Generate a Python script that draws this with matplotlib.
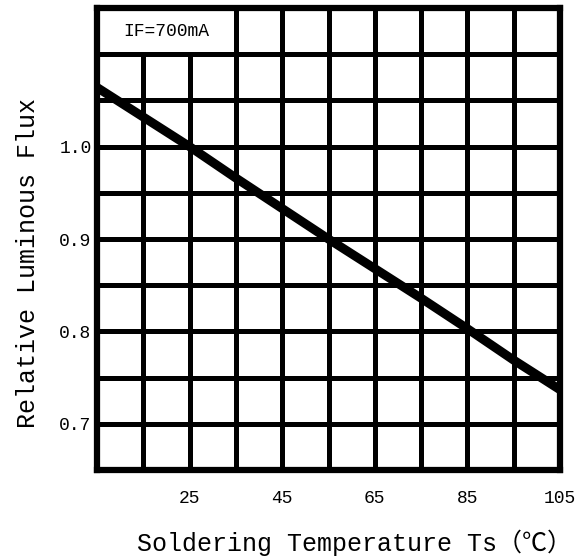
import matplotlib.pyplot as plt
import numpy as np

# Curve (temperature in C, relative flux)
temps = [5, 15, 25, 35, 45, 55, 65, 75, 85, 95, 105]
flux = [1.064, 1.032, 1.000, 0.966, 0.933, 0.900, 0.868, 0.836, 0.803, 0.769, 0.737]

x_grid = np.arange(5, 106, 10)
y_grid = np.arange(0.65, 1.151, 0.05)
x_labels = ['', '', '25', '', '45', '', '65', '', '85', '', '105']
y_labels = ['', '0.7', '', '0.8', '', '0.9', '', '1.0', '', '', '']

fam = ['Liberation Mono', 'Noto Sans CJK SC', 'DejaVu Sans']

fig = plt.figure(figsize=(5.82, 5.59), dpi=100)
ax = fig.add_axes([0.1667, 0.159, 0.7955, 0.8267])

ax.set_xlim(5, 105)
ax.set_ylim(0.65, 1.15)

# Grid: thick black lines, the top-left cell row is merged for the label box
for xv in x_grid[1:-1]:
    top = 1.10 if xv in (15, 25) else 1.15
    ax.vlines(xv, 0.65, top, color='black', lw=3.6, zorder=1)
for yv in y_grid[1:-1]:
    ax.axhline(yv, color='black', lw=3.6, zorder=1)

ax.plot(temps, flux, color='black', lw=6.5, solid_capstyle='butt', zorder=3)

ax.text(20, 1.125, 'IF=700mA', ha='center', va='center', fontsize=13,
        family=fam, zorder=4)

for s in ax.spines.values():
    s.set_linewidth(4.5)
    s.set_zorder(5)

ax.set_xticks(x_grid)
ax.set_xticklabels(x_labels, family=fam, fontsize=13)
ax.set_yticks(y_grid)
ax.set_yticklabels(y_labels, family=fam, fontsize=13)
ax.tick_params(axis='x', length=0, pad=14)
ax.tick_params(axis='y', length=0, pad=4)

ax.set_xlabel('Soldering Temperature Ts（℃）', family=fam, fontsize=18)
ax.set_ylabel('Relative Luminous Flux', family=fam, fontsize=18)
ax.xaxis.set_label_coords(0.556, -0.128)
ax.yaxis.set_label_coords(-0.124, 0.448)

fig.savefig('out.png', dpi=100)
